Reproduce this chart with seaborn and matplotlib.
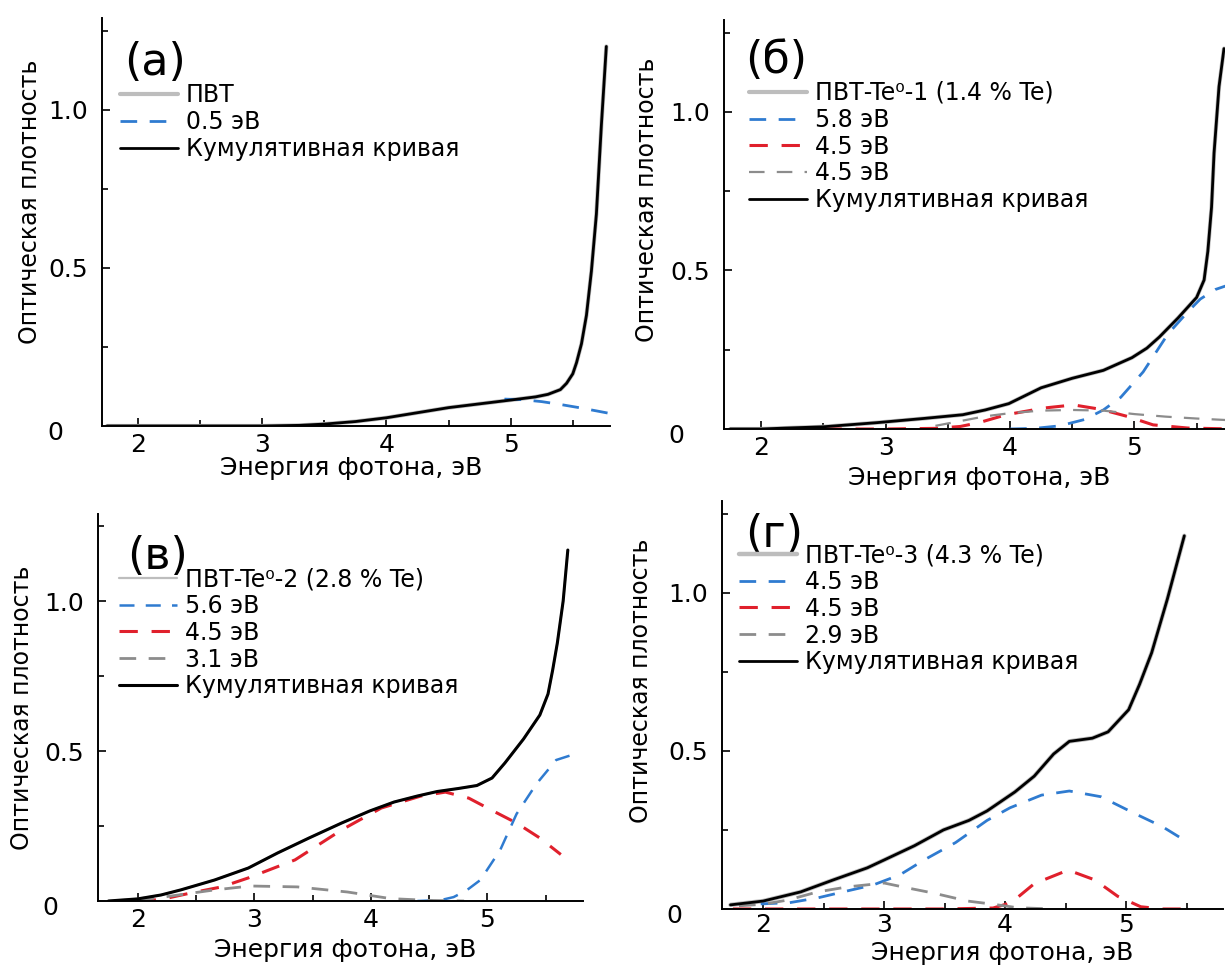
import matplotlib
matplotlib.use('Agg')
import matplotlib.pyplot as plt
import seaborn as sns
from matplotlib.ticker import FixedLocator, NullFormatter, FixedFormatter

# ---- panel (a): ПВТ ----
a_x_cum = [1.75, 2.0, 2.5, 3.0, 3.3, 3.5, 3.75, 4.0, 4.25, 4.5, 4.75, 5.0, 5.2, 5.3,
           5.4, 5.45, 5.5, 5.53, 5.57, 5.61, 5.65, 5.69, 5.73, 5.77]
a_y_cum = [0.0, 0.0, 0.0, 0.0, 0.002, 0.006, 0.014, 0.026, 0.042, 0.058, 0.07, 0.082, 0.092,
           0.10, 0.115, 0.135, 0.165, 0.20, 0.26, 0.35, 0.49, 0.67, 0.95, 1.20]
a_x_blue = [4.95, 5.1, 5.25, 5.4, 5.55, 5.7, 5.78]
a_y_blue = [0.085, 0.083, 0.077, 0.068, 0.058, 0.047, 0.041]

# ---- panel (б): ПВТ-Te0-1 ----
b_x_cum = [1.75, 2.0, 2.2, 2.5, 2.93, 3.3, 3.62, 3.8, 3.99, 4.12, 4.25, 4.5, 4.75, 4.98,
           5.1, 5.2, 5.35, 5.5, 5.56, 5.59, 5.62, 5.64, 5.68, 5.72]
b_y_cum = [0.0, 0.0, 0.003, 0.007, 0.02, 0.033, 0.045, 0.06, 0.08, 0.105, 0.13, 0.16, 0.185,
           0.225, 0.255, 0.29, 0.35, 0.415, 0.47, 0.56, 0.70, 0.87, 1.08, 1.20]
b_x_blue = [4.0, 4.2, 4.4, 4.6, 4.75, 4.89, 5.07, 5.27, 5.43, 5.53, 5.65, 5.8]
b_y_blue = [0.0, 0.002, 0.01, 0.03, 0.06, 0.10, 0.18, 0.30, 0.37, 0.41, 0.44, 0.46]
b_x_red = [2.5, 3.0, 3.4, 3.6, 3.75, 3.97, 4.27, 4.51, 4.73, 4.94, 5.15, 5.43, 5.8]
b_y_red = [0.0, 0.0, 0.002, 0.008, 0.02, 0.045, 0.066, 0.076, 0.062, 0.04, 0.013, 0.003, 0.0]
b_x_grey = [3.4, 3.6, 3.8, 4.0, 4.25, 4.5, 4.75, 5.0, 5.25, 5.5, 5.8]
b_y_grey = [0.01, 0.025, 0.04, 0.05, 0.058, 0.06, 0.058, 0.047, 0.039, 0.033, 0.027]

# ---- panel (в): ПВТ-Te0-2 ----
c_x_cum = [1.75, 2.0, 2.2, 2.37, 2.66, 2.95, 3.2, 3.47, 3.75, 3.99, 4.2, 4.4, 4.57, 4.75,
           4.91, 5.04, 5.15, 5.31, 5.45, 5.52, 5.56, 5.6, 5.65, 5.69]
c_y_cum = [0.0, 0.007, 0.02, 0.037, 0.07, 0.11, 0.16, 0.21, 0.26, 0.30, 0.33, 0.35, 0.365,
           0.375, 0.385, 0.41, 0.46, 0.54, 0.62, 0.69, 0.77, 0.86, 1.0, 1.17]
c_x_blue = [4.4, 4.6, 4.71, 4.82, 4.94, 5.11, 5.25, 5.42, 5.59, 5.71]
c_y_blue = [0.0, 0.003, 0.013, 0.035, 0.07, 0.17, 0.29, 0.39, 0.47, 0.485]
c_x_red = [2.0, 2.2, 2.46, 2.72, 2.95, 3.35, 3.75, 4.09, 4.43, 4.64, 4.84, 5.05, 5.25, 5.45, 5.63]
c_y_red = [0.0, 0.005, 0.027, 0.047, 0.077, 0.137, 0.237, 0.31, 0.35, 0.363, 0.343, 0.30,
           0.26, 0.21, 0.155]
c_x_grey = [2.0, 2.22, 2.66, 2.97, 3.37, 3.8, 4.17, 4.5, 4.8]
c_y_grey = [0.003, 0.013, 0.037, 0.05, 0.047, 0.03, 0.008, 0.002, 0.0]

# ---- panel (г): ПВТ-Te0-3 ----
d_x_cum = [1.73, 2.0, 2.31, 2.58, 2.86, 3.0, 3.25, 3.49, 3.7, 3.85, 4.08, 4.24, 4.4, 4.53,
           4.72, 4.85, 5.02, 5.11, 5.21, 5.34, 5.48]
d_y_cum = [0.013, 0.025, 0.054, 0.092, 0.13, 0.155, 0.2, 0.25, 0.28, 0.31, 0.37, 0.42, 0.49,
           0.53, 0.54, 0.56, 0.63, 0.71, 0.81, 0.98, 1.18]
d_x_blue = [1.98, 2.22, 2.45, 2.66, 2.91, 3.13, 3.33, 3.59, 3.85, 4.04, 4.3, 4.53, 4.79,
            5.08, 5.3, 5.47]
d_y_blue = [0.016, 0.02, 0.035, 0.054, 0.076, 0.108, 0.155, 0.21, 0.28, 0.32, 0.36, 0.373,
            0.355, 0.30, 0.26, 0.22]
d_x_red = [1.75, 2.5, 3.0, 3.5, 3.9, 4.05, 4.24, 4.52, 4.74, 4.93, 5.12, 5.3, 5.45]
d_y_red = [0.0, 0.0, 0.0, 0.0, 0.003, 0.02, 0.08, 0.123, 0.092, 0.04, 0.007, 0.0, 0.0]
d_x_grey = [1.8, 2.0, 2.2, 2.45, 2.7, 3.0, 3.2, 3.41, 3.69, 3.9, 4.1, 4.4]
d_y_grey = [0.01, 0.015, 0.028, 0.054, 0.07, 0.082, 0.066, 0.05, 0.025, 0.015, 0.004, 0.0]

# legend labels
a_labels = ['ПВТ', '0.5 эВ', 'Кумулятивная кривая']
b_labels = ['ПВТ-Te⁰-1 (1.4 % Te)', '5.8 эВ', '4.5 эВ', '4.5 эВ', 'Кумулятивная кривая']
c_labels = ['ПВТ-Te⁰-2 (2.8 % Te)', '5.6 эВ', '4.5 эВ', '3.1 эВ', 'Кумулятивная кривая']
d_labels = ['ПВТ-Te⁰-3 (4.3 % Te)', '4.5 эВ', '4.5 эВ', '2.9 эВ', 'Кумулятивная кривая']

C_BLUE = '#2f7bd0'
C_RED = '#e0202c'
C_GREY = '#8c8c8c'
C_PVT = '#bdbdbd'
DASH = (0, (6, 4.5))

sns.set_style('ticks')
plt.rcParams['font.family'] = ['DejaVu Sans']
plt.rcParams['text.color'] = 'black'
plt.rcParams['axes.labelcolor'] = 'black'
plt.rcParams['xtick.color'] = 'black'
plt.rcParams['ytick.color'] = 'black'

fig = plt.figure(figsize=(12.25, 9.73), dpi=100)


def setup_axes(pos, xlim, letter, letter_xy, ylab_xy, xlab_xy, xpad=5):
    ax = fig.add_axes(pos)
    ax.set_xlim(*xlim)
    ax.set_ylim(0, 1.29)
    for s in ['top', 'right']:
        ax.spines[s].set_visible(False)
    for s in ['left', 'bottom']:
        ax.spines[s].set_linewidth(1.4)
        ax.spines[s].set_color('black')
    ax.xaxis.set_major_locator(FixedLocator([2, 3, 4, 5]))
    ax.xaxis.set_minor_locator(FixedLocator([2.5, 3.5, 4.5, 5.5]))
    ax.yaxis.set_major_locator(FixedLocator([0.5, 1.0]))
    ax.yaxis.set_major_formatter(FixedFormatter(['0.5', '1.0']))
    ax.yaxis.set_minor_locator(FixedLocator([0.25, 0.75, 1.25]))
    ax.yaxis.set_minor_formatter(NullFormatter())
    ax.tick_params(which='both', direction='in', width=1.2, color='black')
    ax.tick_params(which='major', length=6)
    ax.tick_params(which='minor', length=4)
    ax.tick_params(axis='x', which='major', labelsize=18, pad=xpad)
    ax.tick_params(axis='y', which='major', labelsize=18, pad=10)
    # separate origin label, set off below-left as in the original
    ax.annotate('0', xy=(0, 0), xycoords=('axes fraction', 'data'),
                xytext=(-34, -5), textcoords='offset points',
                ha='center', va='center', fontsize=18)
    ax.set_xlabel('Энергия фотона, эВ', fontsize=18)
    ax.set_ylabel('Оптическая плотность', fontsize=17)
    ax.xaxis.set_label_coords(*xlab_xy)
    ax.yaxis.set_label_coords(*ylab_xy)
    ax.text(letter_xy[0], letter_xy[1], letter, transform=ax.transAxes,
            fontsize=32, ha='center', va='center')
    return ax


def add_legend(ax, anchor):
    ax.legend(loc='upper left', bbox_to_anchor=anchor, frameon=False, fontsize=17,
              borderpad=0, borderaxespad=0, handlelength=2.45, handletextpad=0.35,
              labelspacing=0.12)


# (a)
ax = setup_axes([0.0833, 0.5622, 0.4147, 0.4193], (1.71, 5.80), '(a)',
                (0.104, 0.892), (-0.118, 0.55), (0.49, -0.074))
sns.lineplot(x=a_x_cum, y=a_y_cum, ax=ax, color=C_PVT, lw=3, label=a_labels[0], sort=False)
sns.lineplot(x=a_x_blue, y=a_y_blue, ax=ax, color=C_BLUE, lw=2, linestyle=DASH,
             label=a_labels[1], sort=False)
sns.lineplot(x=a_x_cum, y=a_y_cum, ax=ax, color='black', lw=2, label=a_labels[2], sort=False)
add_legend(ax, (0.035, 0.84))

# (б)
ax = setup_axes([0.5910, 0.5591, 0.4163, 0.4203], (1.70, 5.80), '(б)',
                (0.102, 0.902), (-0.128, 0.56), (0.50, -0.091))
sns.lineplot(x=b_x_cum, y=b_y_cum, ax=ax, color=C_PVT, lw=3, label=b_labels[0], sort=False)
sns.lineplot(x=b_x_blue, y=b_y_blue, ax=ax, color=C_BLUE, lw=2, linestyle=DASH,
             label=b_labels[1], sort=False)
sns.lineplot(x=b_x_red, y=b_y_red, ax=ax, color=C_RED, lw=2.2, linestyle=DASH,
             label=b_labels[2], sort=False)
sns.lineplot(x=b_x_grey, y=b_y_grey, ax=ax, color=C_GREY, lw=1.6, linestyle=(0, (7, 5.5)),
             label=b_labels[3], sort=False)
sns.lineplot(x=b_x_cum, y=b_y_cum, ax=ax, color='black', lw=2, label=b_labels[4], sort=False)
add_legend(ax, (0.049, 0.851))

# (в)
ax = setup_axes([0.0800, 0.0740, 0.3959, 0.3977], (1.66, 5.82), '(в)',
                (0.122, 0.891), (-0.132, 0.50), (0.51, -0.096))
sns.lineplot(x=c_x_cum, y=c_y_cum, ax=ax, color=C_PVT, lw=1.6, label=c_labels[0], sort=False)
sns.lineplot(x=c_x_blue, y=c_y_blue, ax=ax, color=C_BLUE, lw=1.8, linestyle=DASH,
             label=c_labels[1], sort=False)
sns.lineplot(x=c_x_red, y=c_y_red, ax=ax, color=C_RED, lw=2.2, linestyle=DASH,
             label=c_labels[2], sort=False)
sns.lineplot(x=c_x_grey, y=c_y_grey, ax=ax, color=C_GREY, lw=2, linestyle=DASH,
             label=c_labels[3], sort=False)
sns.lineplot(x=c_x_cum, y=c_y_cum, ax=ax, color='black', lw=2.2, label=c_labels[4], sort=False)
add_legend(ax, (0.043, 0.863))

# (г)
ax = setup_axes([0.5894, 0.0658, 0.4090, 0.4193], (1.66, 5.80), '(г)',
                (0.104, 0.917), (-0.138, 0.56), (0.56, -0.078), xpad=3)
sns.lineplot(x=d_x_cum, y=d_y_cum, ax=ax, color=C_PVT, lw=3.2, label=d_labels[0], sort=False)
sns.lineplot(x=d_x_blue, y=d_y_blue, ax=ax, color=C_BLUE, lw=2, linestyle=DASH,
             label=d_labels[1], sort=False)
sns.lineplot(x=d_x_red, y=d_y_red, ax=ax, color=C_RED, lw=2.2, linestyle=DASH,
             label=d_labels[2], sort=False)
sns.lineplot(x=d_x_grey, y=d_y_grey, ax=ax, color=C_GREY, lw=2, linestyle=DASH,
             label=d_labels[3], sort=False)
sns.lineplot(x=d_x_cum, y=d_y_cum, ax=ax, color='black', lw=2, label=d_labels[4], sort=False)
add_legend(ax, (0.034, 0.897))

fig.savefig('out.png', dpi=100)
